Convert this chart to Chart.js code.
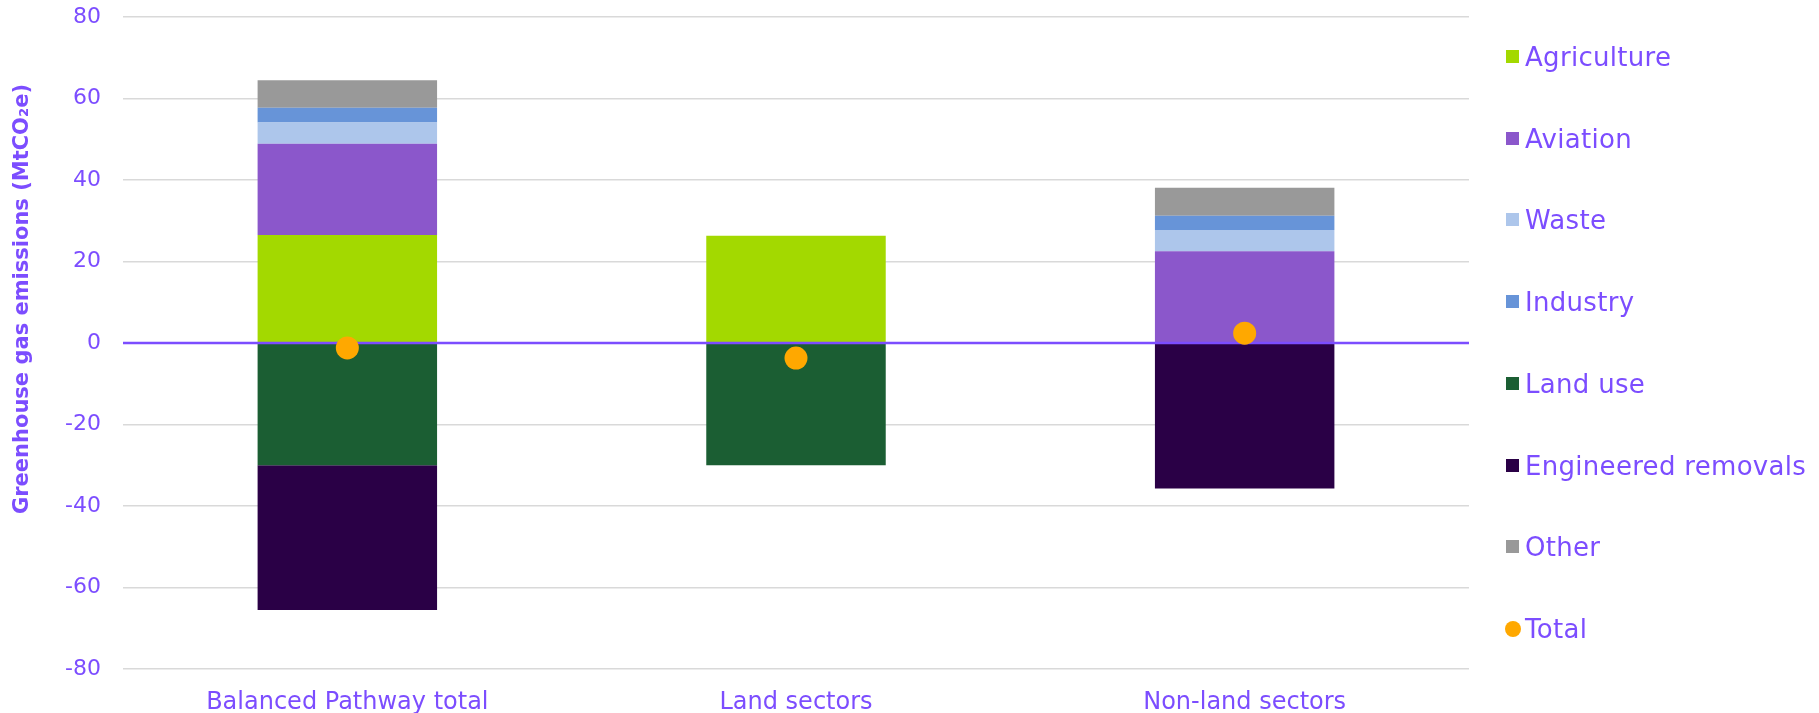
<!DOCTYPE html>
<html>
<head>
<meta charset="utf-8">
<script src="https://cdn.jsdelivr.net/npm/chart.js"></script>
<style>
    body { margin: 0; background: #fff; }
    #wrap { position: relative; width: 1819px; height: 713px; }
    #legend { position: absolute; left: 1506px; top: 0; font-family: "DejaVu Sans", sans-serif; font-size: 26px; letter-spacing: 0.3px; color: #7C4DFF; }
    .legend-item { position: absolute; left: 0; white-space: nowrap; height: 26px; line-height: 26px; }
    .legend-item span.box { position: absolute; left: 0; top: 6px; width: 13px; height: 13px; }
    .legend-item span.dot { position: absolute; left: -1px; top: 5px; width: 16px; height: 16px; border-radius: 50%; }
    .legend-item span.txt { position: absolute; left: 19px; top: 0; }
</style>
</head>
<body>
<div id="wrap">
    <canvas id="myChart" width="1819" height="713"></canvas>
    <div id="legend"></div>
</div>
<script>
const categories = ['Balanced Pathway total', 'Land sectors', 'Non-land sectors'];
const agriculture = [26.5, 26.3, 0];
const aviation = [22.4, 0, 22.5];
const waste = [5.2, 0, 5.2];
const industry = [3.6, 0, 3.5];
const landUse = [-30, -30, 0];
const engineeredRemovals = [-35.5, 0, -35.7];
const other = [6.8, 0, 6.9];
const total = [-1.2, -3.7, 2.4];
const yTicks = [-80, -60, -40, -20, 0, 20, 40, 60, 80];

const purple = '#7C4DFF';

// zero line sits over the bars but under the total dots
const zeroLine = {
    id: 'zeroLine',
    beforeDatasetDraw: function (chart, args) {
        if (chart.data.datasets[args.index].type !== 'line') return;
        const y = chart.scales.y.getPixelForValue(0);
        const ctx = chart.ctx;
        ctx.save();
        ctx.strokeStyle = purple;
        ctx.lineWidth = 2.5;
        ctx.beginPath();
        ctx.moveTo(chart.chartArea.left, y);
        ctx.lineTo(chart.chartArea.right, y);
        ctx.stroke();
        ctx.restore();
    }
};

const yTitle = {
    id: 'yTitle',
    afterDraw: function (chart) {
        const ctx = chart.ctx;
        ctx.save();
        ctx.translate(23, 299);
        ctx.rotate(-Math.PI / 2);
        ctx.font = 'bold 21px "DejaVu Sans"';
        ctx.fillStyle = purple;
        ctx.textAlign = 'center';
        ctx.textBaseline = 'middle';
        ctx.fillText('Greenhouse gas emissions (MtCO\u2082e)', 0, 0);
        ctx.restore();
    }
};

function bar_set(label, data, color) {
    return {
        type: 'bar',
        label: label,
        data: data,
        backgroundColor: color,
        borderWidth: 0,
        stack: 'sectors',
        order: 1,
        barPercentage: 0.4,
        categoryPercentage: 1
    };
}

function draw_chart() {
    const chart = new Chart(document.getElementById('myChart'), {
        data: {
            labels: categories,
            datasets: [
                bar_set('Agriculture', agriculture, '#A3D900'),
                bar_set('Aviation', aviation, '#8B57CB'),
                bar_set('Waste', waste, '#ADC6EB'),
                bar_set('Industry', industry, '#6794D8'),
                bar_set('Land use', landUse, '#1B5E33'),
                bar_set('Engineered removals', engineeredRemovals, '#2A0046'),
                bar_set('Other', other, '#999999'),
                {
                    type: 'line',
                    label: 'Total',
                    data: total,
                    stack: 'total',
                    order: 0,
                    showLine: false,
                    pointRadius: 11.5,
                    pointHoverRadius: 11.5,
                    pointBackgroundColor: '#FFA800',
                    pointBorderWidth: 0,
                    backgroundColor: '#FFA800'
                }
            ]
        },
        options: {
            responsive: false,
            animation: false,
            devicePixelRatio: 1,
            layout: { padding: { left: 0, right: 350, top: 0, bottom: 0 } },
            plugins: {
                legend: { display: false },
                tooltip: { enabled: false }
            },
            scales: {
                x: {
                    stacked: true,
                    grid: { display: false, drawTicks: false },
                    border: { display: false },
                    ticks: {
                        color: purple,
                        font: { family: 'DejaVu Sans', size: 24 },
                        padding: 19,
                        maxRotation: 0
                    },
                    afterFit: function (s) { s.height = 44; }
                },
                y: {
                    stacked: true,
                    min: -80,
                    max: 80,
                    afterBuildTicks: function (s) {
                        s.ticks = yTicks.map(function (v) { return { value: v }; });
                    },
                    grid: {
                        color: function (c) { return c.tick && c.tick.value === 0 ? 'rgba(0,0,0,0)' : '#D9D9D9'; },
                        lineWidth: 1.5,
                        drawTicks: false
                    },
                    border: { display: false },
                    ticks: {
                        color: purple,
                        font: { family: 'DejaVu Sans', size: 22 },
                        padding: 22
                    },
                    afterFit: function (s) {
                        s.width = 123;
                        s.paddingTop = 17;
                        s.paddingBottom = 0;
                    }
                }
            }
        },
        plugins: [zeroLine, yTitle]
    });
    build_legend(chart);
}

function build_legend(chart) {
    const box = document.getElementById('legend');
    chart.data.datasets.forEach(function (ds, i) {
        const mark = ds.type === 'line' ? 'dot' : 'box';
        const top = 57 + i * 81.7 - 13;
        box.insertAdjacentHTML('beforeend', `
            <div class="legend-item" style="top:${top}px">
                <span class="${mark}" style="background:${ds.backgroundColor}"></span>
                <span class="txt">${ds.label}</span>
            </div>
        `);
    });
}

draw_chart();
</script>
</body>
</html>
